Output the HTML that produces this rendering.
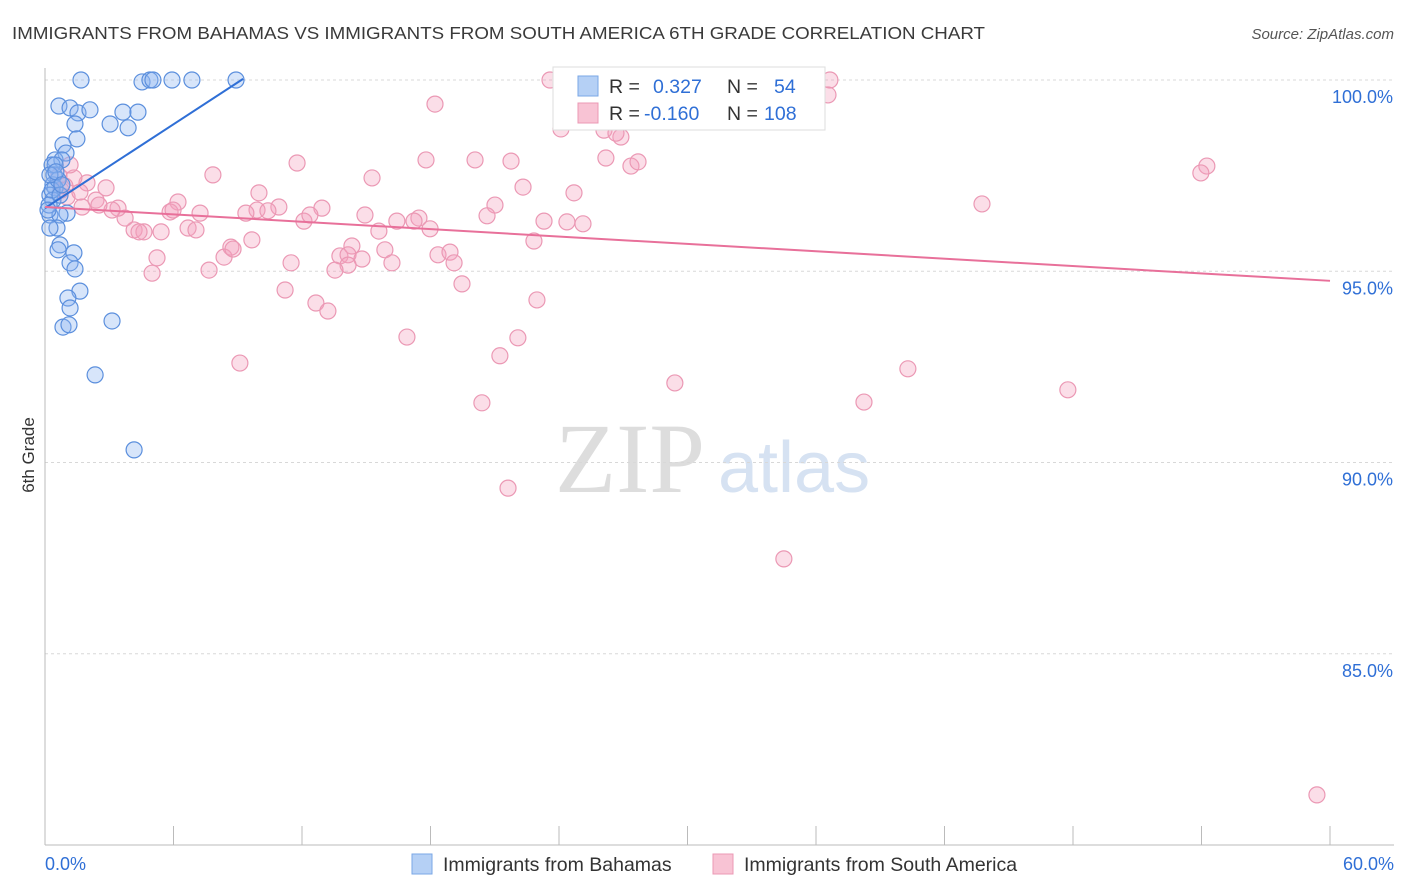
<!DOCTYPE html>
<html><head><meta charset="utf-8">
<style>
body{margin:0;background:#fff;font-family:"Liberation Sans",sans-serif;}
svg{display:block}
</style></head>
<body>
<svg id="chart" width="1406" height="892">
<text x="12" y="39" font-size="17.5" fill="#3a3a3a" textLength="973" lengthAdjust="spacingAndGlyphs">IMMIGRANTS FROM BAHAMAS VS IMMIGRANTS FROM SOUTH AMERICA 6TH GRADE CORRELATION CHART</text>
<text x="1394" y="39" font-size="15" fill="#555" text-anchor="end" font-style="italic">Source: ZipAtlas.com</text>
<text x="34" y="455" font-size="17" fill="#333" text-anchor="middle" transform="rotate(-90 34 455)">6th Grade</text>
<text x="555" y="492" font-size="100" fill="#ddd" font-family="Liberation Serif,serif">ZIP</text>
<text x="718" y="492" font-size="72" fill="#d6e2f2">atlas</text>
<g id="grid"></g><g id="pts"></g><g id="trend"></g>
<g>
<rect x="553" y="67" width="272" height="63" fill="#fff" stroke="#ddd"/>
<rect x="578" y="76" width="20" height="20" fill="#b5d0f5" stroke="#7aa7e6"/>
<rect x="578" y="103" width="20" height="20" fill="#f8c3d4" stroke="#eb98b4"/>
<text x="609" y="93" font-size="19.5" fill="#333">R = <tspan fill="#2f6fd6" x="653">0.327</tspan><tspan x="727">N =</tspan><tspan fill="#2f6fd6" x="774">54</tspan></text>
<text x="609" y="120" font-size="19.5" fill="#333">R = <tspan fill="#2f6fd6" x="644">-0.160</tspan><tspan x="727">N =</tspan><tspan fill="#2f6fd6" x="764">108</tspan></text>
</g>
<g>
<rect x="412" y="854" width="20" height="20" fill="#b5d0f5" stroke="#7aa7e6"/>
<text x="443" y="871" font-size="19.5" fill="#333">Immigrants from Bahamas</text>
<rect x="713" y="854" width="20" height="20" fill="#f8c3d4" stroke="#eb98b4"/>
<text x="744" y="871" font-size="19.5" fill="#333">Immigrants from South America</text>
</g>
</svg>
<script>
const yTicks=[100,95,90,85];
const yTickLabels=["100.0%","95.0%","90.0%","85.0%"];
const xTicks=[0,6,12,18,24,30,36,42,48,54,60];
const xEndLabels=["0.0%","60.0%"];
const blueX=[1.68,4.53,4.90,5.04,5.93,6.86,8.92,0.65,1.17,1.54,2.10,3.64,4.34,1.40,3.04,3.88,1.49,0.84,0.98,0.47,0.79,0.33,0.42,0.37,0.47,0.23,0.37,0.23,1.03,0.70,0.56,0.23,0.70,0.61,1.35,1.17,1.40,1.63,1.07,1.17,3.13,0.84,1.12,2.34,4.16,0.47,0.33,0.61,0.19,0.70,0.23,0.51,0.79,0.14];
const blueY=[100,99.95,100,100,100,100,100,99.32,99.27,99.14,99.22,99.16,99.16,98.85,98.85,98.75,98.46,98.30,98.09,97.91,97.91,97.78,97.52,97.26,97.18,96.99,96.86,96.47,96.52,96.47,96.13,96.13,95.69,95.56,95.48,95.22,95.06,94.48,94.30,94.04,93.70,93.54,93.60,92.29,90.33,97.78,97.12,97.39,96.73,96.99,97.52,97.60,97.26,96.60];
const pinkX=[23.58,27.22,31.79,36.65,36.56,32.54,24.09,26.10,26.89,26.66,18.21,26.19,27.36,27.69,20.08,21.76,17.79,11.77,15.27,22.32,24.70,21.01,20.64,54.25,53.97,43.75,7.84,9.99,10.92,9.90,10.41,9.38,12.09,12.93,12.37,14.94,16.43,17.46,17.23,17.98,15.59,23.30,24.37,25.12,22.83,6.21,5.84,7.24,5.98,6.68,7.05,4.16,4.62,4.39,3.74,3.41,3.13,2.38,2.85,1.96,1.35,0.65,0.75,1.03,1.73,2.52,1.63,0.93,8.68,8.36,9.66,8.78,11.49,13.77,14.33,14.15,14.80,15.87,16.20,14.15,18.35,18.91,19.10,13.54,5.23,5.00,7.66,11.21,12.65,13.21,19.47,22.97,16.90,22.08,21.24,9.10,29.41,40.29,38.24,47.76,20.40,21.62,34.50,59.39,5.42,1.17];
const pinkY=[100,100,99.84,100,99.61,99.14,98.72,98.69,98.51,98.61,99.37,97.96,97.75,97.86,97.91,97.88,97.91,97.83,97.44,97.20,97.05,96.73,96.45,97.75,97.57,96.76,97.52,97.05,96.68,96.60,96.58,96.52,96.31,96.65,96.47,96.47,96.31,96.39,96.31,96.11,96.05,96.31,96.29,96.24,95.79,96.81,96.55,96.52,96.60,96.13,96.08,96.08,96.03,96.03,96.39,96.65,96.60,96.86,97.18,97.31,97.44,97.49,97.12,96.94,96.68,96.73,97.07,97.23,95.63,95.37,95.82,95.58,95.22,95.40,95.66,95.43,95.32,95.56,95.22,95.16,95.43,95.50,95.22,95.03,95.35,94.95,95.03,94.51,94.17,93.96,94.67,94.25,93.28,93.26,92.79,92.60,92.08,92.45,91.58,91.90,91.56,89.33,87.48,81.31,96.03,97.78];
const blueTrendX=[0,9.25], blueTrendY=[96.65,100.03];
const pinkTrendX=[0,60], pinkTrendY=[96.68,94.75];

const NS="http://www.w3.org/2000/svg";
const sx=v=>45+v*(1285/60);
const sy=v=>80+(100-v)*38.25;
function mk(tag,attrs,parent){const e=document.createElementNS(NS,tag);for(const k in attrs)e.setAttribute(k,attrs[k]);parent.appendChild(e);return e;}
const grid=document.getElementById('grid');
yTicks.forEach((t,i)=>{
  const l=mk('line',{x1:45,x2:1394,y1:sy(t),y2:sy(t),stroke:'#d8d8d8','stroke-dasharray':'3,3'},grid);
  
  
  const tx=mk('text',{x:1393,y:sy(t)+23,'font-size':18,fill:'#2f6fd6','text-anchor':'end'},grid);
  tx.textContent=yTickLabels[i];
  
  
});
const ax=mk('line',{x1:45,x2:45,y1:68,y2:845,stroke:'#bbb'},grid);


const bx=mk('line',{x1:45,x2:1394,y1:845,y2:845,stroke:'#bbb'},grid);


xTicks.forEach(t=>{
  const l=mk('line',{x1:sx(t),x2:sx(t),y1:826,y2:845,stroke:'#bbb'},grid);
  
  
});
[[0,'start',45],[60,'end',1394]].forEach((d,i)=>{
  const tx=mk('text',{x:d[2],y:870,'font-size':18,fill:'#2f6fd6','text-anchor':d[1]},grid);
  tx.textContent=xEndLabels[i];
  
  
});
const pts=document.getElementById('pts');
pinkX.forEach((x,i)=>{
  const c=mk('circle',{cx:sx(x),cy:sy(pinkY[i]),r:8,fill:'rgba(244,160,190,0.35)',stroke:'#eb98b4','stroke-width':1.2},pts);
  
  
});
blueX.forEach((x,i)=>{
  const c=mk('circle',{cx:sx(x),cy:sy(blueY[i]),r:8,fill:'rgba(140,180,240,0.35)',stroke:'#5b8fdd','stroke-width':1.2},pts);
  
  
});
const tr=document.getElementById('trend');
const t1=mk('line',{x1:sx(blueTrendX[0]),y1:sy(blueTrendY[0]),x2:sx(blueTrendX[1]),y2:sy(blueTrendY[1]),stroke:'#2f6fd6','stroke-width':2},tr);


const t2=mk('line',{x1:sx(pinkTrendX[0]),y1:sy(pinkTrendY[0]),x2:sx(pinkTrendX[1]),y2:sy(pinkTrendY[1]),stroke:'#e8709a','stroke-width':2},tr);


</script>
</body></html>
